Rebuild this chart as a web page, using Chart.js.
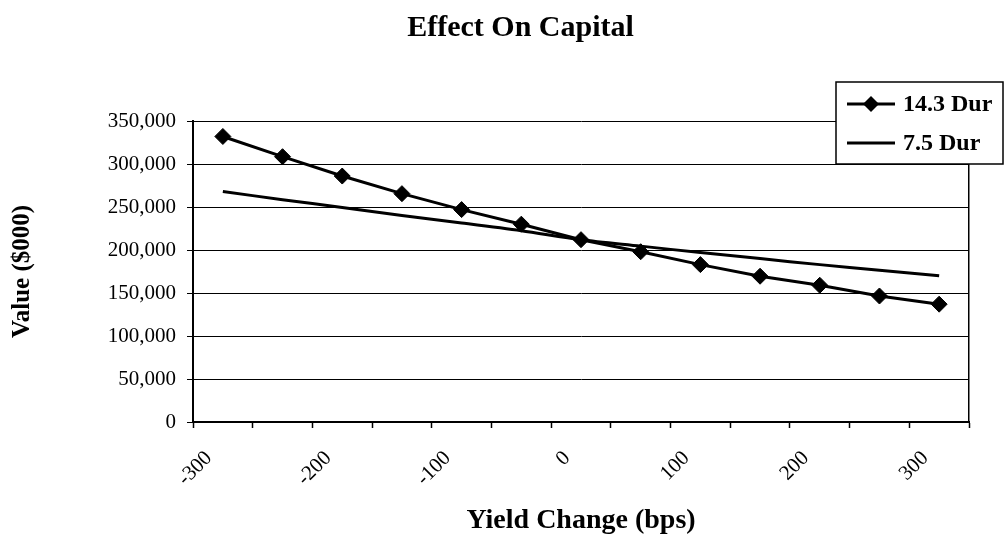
<!DOCTYPE html>
<html>
<head>
<meta charset="utf-8">
<script src="https://cdn.jsdelivr.net/npm/chart.js@4.4.1/dist/chart.umd.min.js"></script>
<style>
  html, body { margin: 0; padding: 0; background: #fff; }
  #wrap { position: relative; width: 1005px; height: 535px; }
</style>
</head>
<body>
<div id="wrap"><canvas id="c" width="1005" height="535"></canvas></div>
<script>
const chartTitle = 'Effect On Capital';
const xTitle = 'Yield Change (bps)';
const yTitle = 'Value ($000)';
const yieldChanges = ['-300','-250','-200','-150','-100','-50','0','50','100','150','200','250','300'];
const seriesNames = ['14.3 Dur', '7.5 Dur'];
const dur143 = [332000, 308500, 286000, 265500, 247000, 230000, 212000, 198000, 183000, 169500, 159000, 146500, 137000];
const dur75  = [268000, 258500, 249500, 240000, 231500, 222500, 212000, 204500, 197000, 190000, 183000, 176500, 170000];
const yMin = 0, yMax = 350000, yStep = 50000;

const SERIF = "'Liberation Serif', 'Times New Roman', serif";

const legendPlugin = {
  id: 'boxLegend',
  afterLayout(chart) {
    const t = chart.titleBlock;
    if (t) { t.left += 36; t.right += 36; }
  },
  afterDraw(chart) {
    const ctx = chart.ctx;
    const x0 = 836, y0 = 82, x1 = 1003, y1 = 164;
    ctx.save();
    ctx.fillStyle = '#fff';
    ctx.fillRect(x0, y0, x1 - x0, y1 - y0);
    ctx.strokeStyle = '#000';
    ctx.lineWidth = 1.5;
    ctx.strokeRect(x0, y0, x1 - x0, y1 - y0);
    const rows = [104, 143];
    ctx.font = 'bold 24px ' + SERIF;
    ctx.textBaseline = 'middle';
    ctx.textAlign = 'left';
    seriesNames.forEach((name, i) => {
      const y = rows[i];
      ctx.strokeStyle = '#000';
      ctx.lineWidth = 3;
      ctx.beginPath();
      ctx.moveTo(847, y);
      ctx.lineTo(895, y);
      ctx.stroke();
      if (i === 0) {
        ctx.fillStyle = '#000';
        ctx.beginPath();
        ctx.moveTo(871 - 8, y);
        ctx.lineTo(871, y - 8);
        ctx.lineTo(871 + 8, y);
        ctx.lineTo(871, y + 8);
        ctx.closePath();
        ctx.fill();
      }
      ctx.fillStyle = '#000';
      ctx.fillText(name, 903, y + 1);
    });
    ctx.restore();
  }
};

new Chart(document.getElementById('c'), {
  type: 'line',
  data: {
    labels: yieldChanges,
    datasets: [
      {
        label: seriesNames[0],
        data: dur143,
        borderColor: '#000',
        backgroundColor: '#000',
        borderWidth: 3,
        pointStyle: 'rectRot',
        pointRadius: 8,
        pointBorderWidth: 1,
        pointBackgroundColor: '#000',
        pointBorderColor: '#000',
        tension: 0
      },
      {
        label: seriesNames[1],
        data: dur75,
        borderColor: '#000',
        backgroundColor: '#000',
        borderWidth: 3,
        pointRadius: 0,
        tension: 0.3
      }
    ]
  },
  options: {
    responsive: false,
    animation: false,
    devicePixelRatio: 1,
    layout: { padding: { left: 0, right: 36, top: 0, bottom: 0 } },
    plugins: {
      legend: { display: false },
      tooltip: { enabled: false },
      title: {
        display: true,
        text: chartTitle,
        color: '#000',
        font: { family: SERIF, size: 30, weight: 'bold', lineHeight: 1.2 },
        padding: { top: 10, bottom: 75 }
      }
    },
    scales: {
      x: {
        offset: true,
        grid: {
          offset: true,
          drawOnChartArea: false,
          drawTicks: true,
          tickLength: 6,
          tickWidth: 1.5,
          tickColor: '#000'
        },
        border: { display: true, color: '#000', width: 2 },
        ticks: {
          autoSkip: false,
          maxRotation: 45,
          minRotation: 45,
          padding: 18,
          labelOffset: -14,
          color: '#000',
          font: { family: SERIF, size: 21 },
          callback: function(value, index) {
            return index % 2 === 0 ? this.getLabelForValue(value) : '';
          }
        },
        title: {
          display: true,
          text: xTitle,
          color: '#000',
          font: { family: SERIF, size: 28, weight: 'bold', lineHeight: 1 },
          padding: { top: 0, bottom: 0 }
        },
        afterFit(scale) { scale.height = 113; }
      },
      y: {
        min: yMin,
        max: yMax,
        grid: {
          color: '#000',
          lineWidth: 1,
          drawTicks: true,
          tickLength: 6,
          tickColor: '#000'
        },
        border: { display: true, color: '#000', width: 2 },
        ticks: {
          stepSize: yStep,
          padding: 11,
          color: '#000',
          font: { family: SERIF, size: 21 },
          callback: (v) => v.toLocaleString('en-US')
        },
        title: {
          display: true,
          text: yTitle,
          color: '#000',
          font: { family: SERIF, size: 25, weight: 'bold', lineHeight: 1.2 },
          padding: { top: 8, bottom: 0 }
        },
        afterFit(scale) { scale.width = 193; }
      },
      yRight: {
        position: 'right',
        min: yMin,
        max: yMax,
        grid: { display: false, drawTicks: false },
        ticks: { display: false },
        border: { display: true, color: '#000', width: 1.5 },
        afterFit(scale) { scale.width = 0; }
      }
    }
  },
  plugins: [legendPlugin]
});
</script>
</body>
</html>
